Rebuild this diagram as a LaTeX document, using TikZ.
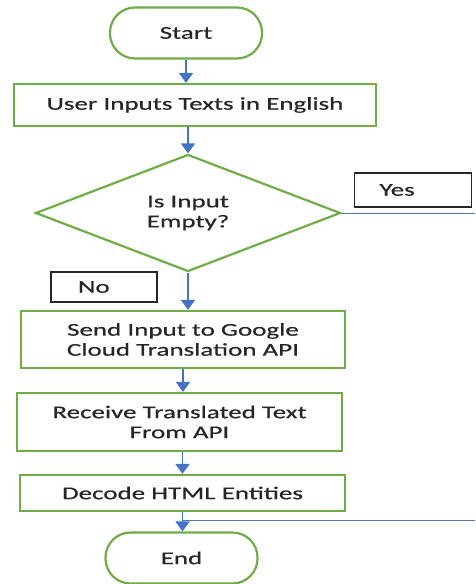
\documentclass[tikz,border=0pt]{standalone}
\usepackage{fontspec}
\setmainfont{Carlito}[FakeStretch=1.5,FakeBold=0.6]
\usetikzlibrary{arrows.meta}
\usetikzlibrary{shapes.geometric}

\definecolor{boxgreen}{HTML}{70AD47}
\definecolor{arrowblue}{HTML}{4472C4}
\definecolor{textgray}{HTML}{262626}

\begin{document}
\begin{tikzpicture}[x=1pt,y=-1pt,
        every node/.style={font=\fontsize{18}{20}\selectfont,text=textgray,align=center,inner sep=0pt},
        terminal/.style={draw=boxgreen,line width=2.2pt,rounded corners=25pt,minimum width=152pt,minimum height=51pt},
        procbox/.style={draw=boxgreen,line width=2.2pt,minimum width=325pt},
        decision/.style={draw=boxgreen,line width=2.2pt,diamond,minimum width=305pt,minimum height=116pt},
        labelbox/.style={draw=black!85,line width=1.2pt,align=left},
        flow/.style={draw=arrowblue,line width=1.8pt,-{Triangle[width=14pt,length=10pt]}},
        branch/.style={draw=arrowblue!70!gray,line width=0.9pt}]
        \useasboundingbox (0,0) rectangle (475,584);
        \node[terminal] (start) at (186,33) {Start};
        \node[procbox,minimum width=362pt,minimum height=42pt] (input) at (195,105) {User Inputs Texts in English};
        \node[decision] (empty) at (188,213) {Is Input\\Empty?};
        \node[labelbox,inner xsep=25pt,text width=67pt,minimum height=34pt] (yes) at (413,190) {Yes};
        \node[labelbox,inner xsep=27pt,text width=52pt,minimum height=30pt] (no) at (104,287) {No};
        \node[procbox,minimum width=324pt,minimum height=57pt] (send) at (183,339.5) {Send Input to Google\\Cloud Translation API};
        \node[procbox,minimum height=58pt] (receive) at (179.5,422) {Receive Translated Text\\From API};
        \node[procbox,minimum height=36pt] (decode) at (182.5,493) {Decode HTML Entities};
        \node[terminal] (end) at (181.5,558) {End};
        \coordinate (yesout) at (475,213);
        \coordinate (endin) at (475,520);
        % main flow
        \draw[flow] (start.south) -- (start.south |- input.north);
        \draw[flow] (empty.north |- input.south) -- (empty.north);
        \draw[flow] (empty.south) -- (empty.south |- send.north);
        \draw[flow] (send.south) -- (send.south |- receive.north);
        \draw[flow] (decode.north |- receive.south) -- (decode.north);
        \draw[flow] (decode.south) -- (decode.south |- end.north);
        % yes branch
        \draw[branch] (empty.east) -- (yesout);
        \draw[branch] (endin) -- (endin -| decode.south);
\end{tikzpicture}
\end{document}
